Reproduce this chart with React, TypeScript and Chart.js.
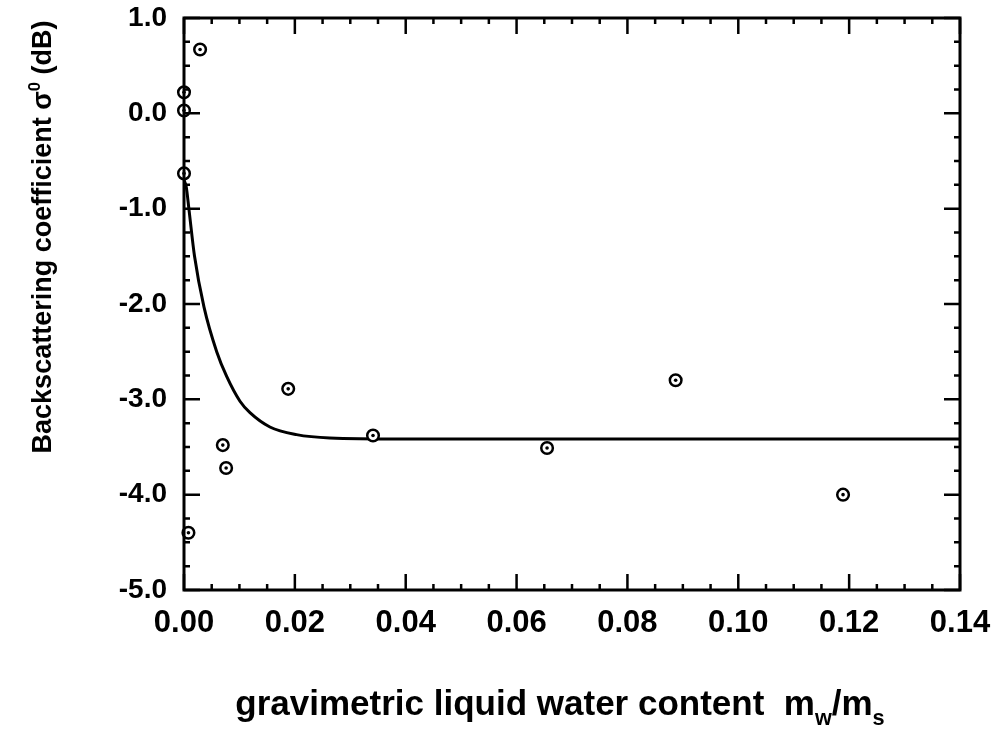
import React, { useEffect, useRef } from "react";
import { Chart, registerables } from "chart.js";

Chart.register(...registerables);

// Measured points (gravimetric liquid water content, sigma0 dB)
const pointX = [0.0029, 0.0, 0.0, 0.0, 0.0008, 0.0070, 0.0076, 0.0188, 0.0341, 0.0655, 0.0887, 0.1189];
const pointY = [0.67, 0.22, 0.03, -0.63, -4.40, -3.48, -3.72, -2.89, -3.38, -3.51, -2.80, -4.00];

// Fitted curve
const curveX = [0.0, 0.0004, 0.0009, 0.0019, 0.0036, 0.0059, 0.0077, 0.0101, 0.0119, 0.0155, 0.0203, 0.0263, 0.0390, 0.0700, 0.1000, 0.1400];
const curveY = [-0.70, -0.77, -1.01, -1.50, -2.03, -2.50, -2.76, -3.02, -3.14, -3.29, -3.37, -3.405, -3.415, -3.415, -3.415, -3.415];

// Axes
const xTicks = [0, 0.02, 0.04, 0.06, 0.08, 0.1, 0.12, 0.14];
const yTicks = [-5, -4, -3, -2, -1, 0, 1];
const xMinorPerMajor = 4;
const yMinorPerMajor = 4;

const xTitleParts = [
  { text: "gravimetric liquid water content  m", kind: "n" },
  { text: "w", kind: "sub" },
  { text: "/m", kind: "n" },
  { text: "s", kind: "sub" },
];
const yTitleParts = [
  { text: "Backscattering coefficient σ", kind: "n" },
  { text: "0", kind: "sup" },
  { text: " (dB)", kind: "n" },
];

const FONT = '"Liberation Sans", Arial, Helvetica, sans-serif';

function drawParts(ctx: CanvasRenderingContext2D, parts: any[], size: number, cx: number, baseY: number) {
  const fontFor = (p: any) => {
    const s = p.kind === "n" ? size : size * 0.62;
    return `bold ${s}px ${FONT}`;
  };
  const widths = parts.map((p) => {
    ctx.font = fontFor(p);
    return ctx.measureText(p.text).width;
  });
  const total = widths.reduce((a, b) => a + b, 0);
  let x = cx - total / 2;
  ctx.textBaseline = "alphabetic";
  ctx.textAlign = "left";
  parts.forEach((p, i) => {
    ctx.font = fontFor(p);
    let y = baseY;
    if (p.kind === "sub") y = baseY + size * 0.28;
    if (p.kind === "sup") y = baseY - size * 0.42;
    ctx.fillText(p.text, x, y);
    x += widths[i];
  });
}

const framePlugin = {
  id: "frameTicks",
  afterDraw(chart: any) {
    const ctx = chart.ctx as CanvasRenderingContext2D;
    const { left, right, top, bottom } = chart.chartArea;
    const xs = chart.scales.x;
    const ys = chart.scales.y;
    ctx.save();
    ctx.strokeStyle = "#000";
    ctx.lineCap = "butt";
    ctx.lineWidth = 2.5;
    const major = 16;
    const minor = 6;
    for (let i = 0; i < xTicks.length; i++) {
      const v = xTicks[i];
      const steps = i < xTicks.length - 1 ? xMinorPerMajor : 1;
      for (let k = 0; k < steps; k++) {
        const val = v + (k * (xTicks[1] - xTicks[0])) / xMinorPerMajor;
        const px = xs.getPixelForValue(val);
        const len = k === 0 ? major : minor;
        ctx.beginPath();
        ctx.moveTo(px, bottom);
        ctx.lineTo(px, bottom - len);
        ctx.moveTo(px, top);
        ctx.lineTo(px, top + len);
        ctx.stroke();
      }
    }
    for (let i = 0; i < yTicks.length; i++) {
      const v = yTicks[i];
      const steps = i < yTicks.length - 1 ? yMinorPerMajor : 1;
      for (let k = 0; k < steps; k++) {
        const val = v + (k * (yTicks[1] - yTicks[0])) / yMinorPerMajor;
        const py = ys.getPixelForValue(val);
        const len = k === 0 ? major : minor;
        ctx.beginPath();
        ctx.moveTo(left, py);
        ctx.lineTo(left + len, py);
        ctx.moveTo(right, py);
        ctx.lineTo(right - len, py);
        ctx.stroke();
      }
    }
    ctx.lineWidth = 3;
    ctx.strokeRect(left, top, right - left, bottom - top);
    ctx.fillStyle = "#000";
    drawParts(ctx, xTitleParts, 35, 560, 715);
    ctx.translate(51, 237);
    ctx.rotate(-Math.PI / 2);
    drawParts(ctx, yTitleParts, 27, 0, 0);
    ctx.restore();
  },
};

export default function App() {
  const ref = useRef<HTMLCanvasElement | null>(null);
  useEffect(() => {
    if (!ref.current) return;
    const pts = pointX.map((x, i) => ({ x, y: pointY[i] }));
    const curve = curveX.map((x, i) => ({ x, y: curveY[i] }));
    const chart = new Chart(ref.current, {
      type: "scatter",
      data: {
        datasets: [
          {
            type: "line",
            data: curve,
            borderColor: "#000",
            borderWidth: 3,
            pointRadius: 0,
            fill: false,
            cubicInterpolationMode: "monotone",
            order: 3,
          } as any,
          {
            data: pts,
            pointRadius: 5.8,
            pointBorderWidth: 2.5,
            pointBorderColor: "#000",
            pointBackgroundColor: "#fff",
            clip: false,
            order: 2,
          } as any,
          {
            data: pts,
            pointRadius: 1.8,
            pointBorderWidth: 0,
            pointBackgroundColor: "#000",
            clip: false,
            order: 1,
          } as any,
        ],
      },
      options: {
        animation: false,
        responsive: true,
        maintainAspectRatio: false,
        layout: { padding: { top: 18, right: 40, left: 0, bottom: 0 } },
        plugins: { legend: { display: false }, tooltip: { enabled: false } },
        scales: {
          x: {
            type: "linear",
            min: 0,
            max: 0.14,
            afterBuildTicks: (s: any) => {
              s.ticks = xTicks.map((v) => ({ value: v }));
            },
            afterFit: (s: any) => {
              s.height = 139;
              s.paddingLeft = 0;
              s.paddingRight = 0;
            },
            grid: { display: false, drawTicks: false },
            border: { display: false },
            ticks: {
              autoSkip: false,
              maxRotation: 0,
              padding: 15,
              color: "#000",
              font: { family: FONT, size: 31, weight: "bold" },
              callback: (v: any) => Number(v).toFixed(2),
            },
          },
          y: {
            type: "linear",
            min: -5,
            max: 1,
            afterBuildTicks: (s: any) => {
              s.ticks = yTicks.map((v) => ({ value: v }));
            },
            afterFit: (s: any) => {
              s.width = 184;
              s.paddingTop = 0;
              s.paddingBottom = 0;
            },
            grid: { display: false, drawTicks: false },
            border: { display: false },
            ticks: {
              autoSkip: false,
              padding: 17,
              color: "#000",
              font: { family: FONT, size: 28, weight: "bold" },
              callback: (v: any) => Number(v).toFixed(1),
            },
          },
        },
      },
      plugins: [framePlugin],
    });
    return () => chart.destroy();
  }, []);
  return (
    <div style={{ position: "fixed", left: 0, top: 0, width: 1000, height: 729, background: "#fff" }}>
      <canvas ref={ref} />
    </div>
  );
}
